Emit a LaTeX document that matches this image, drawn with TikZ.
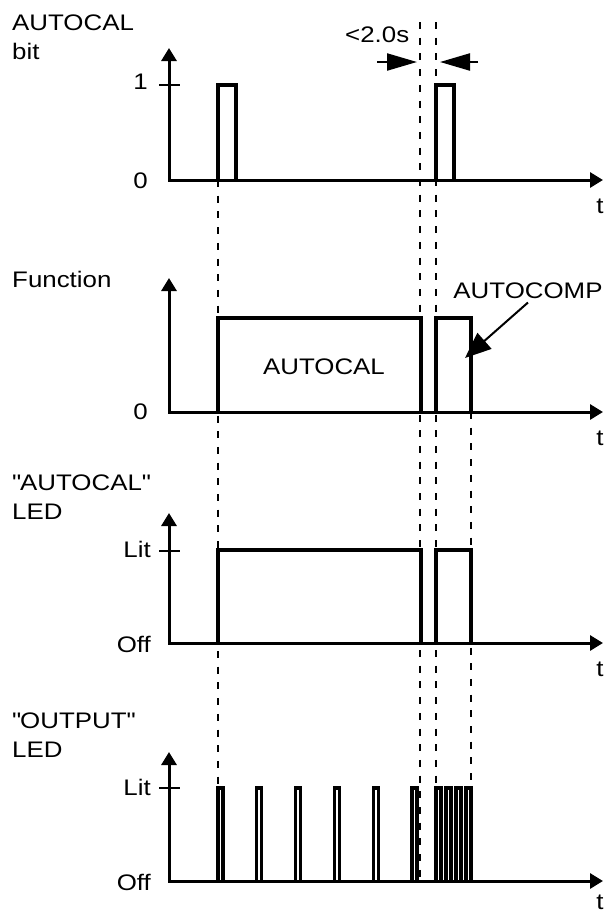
\documentclass[tikz,border=0pt]{standalone}
\usepackage{fontspec}
\setmainfont{Liberation Sans}[FakeStretch=1.15]
\usetikzlibrary{arrows.meta}

\begin{document}
\begin{tikzpicture}[x=1pt,y=-1pt,font=\fontsize{22.5}{28.5}\selectfont,
    wave/.style={line width=3.2pt},
    axis/.style={line width=3pt,{Triangle[length=13pt,width=15pt]}-{Triangle[length=13pt,width=15pt]}},
    tickmark/.style={line width=2.2pt},
    guide/.style={line width=2.6pt,dash pattern=on 7pt off 8.7pt},
    span/.style={line width=2.2pt,-{Triangle[length=30pt,width=17pt]}},
    ptr/.style={line width=2pt,-{Triangle[length=26pt,width=21pt]}},
    lbl/.style={inner sep=0pt}]
  \useasboundingbox (0,0) rectangle (607,914);
  % Top: AUTOCAL bit
  \node[lbl,anchor=north west,align=left] (bitlbl) at (12,15) {AUTOCAL\\bit};
  \draw[axis] (169,48) -- (169,180) -- (603,180);
  \draw[tickmark] (159,85) -- (180,85);
  \node[lbl,anchor=base east] (bitone) at (148,89) {1};
  \node[lbl,anchor=base east] (bitzero) at (148,188) {0};
  \node[lbl,anchor=base] (bitt) at (600,213) {t};
  \draw[wave] (218,180) |- (236,85) -- (236,180);
  \draw[wave] (436,180) |- (454,85) -- (454,180);
  % Time gap between the two requests
  \node[lbl,anchor=base west] (gaptxt) at (345,42) {<2.0s};
  \coordinate (gapLtail) at (377,62);
  \coordinate (gapLtip) at (417,62);
  \coordinate (gapRtail) at (478,62);
  \coordinate (gapRtip) at (440,62);
  \draw[span] (gapLtail) -- (gapLtip);
  \draw[span] (gapRtail) -- (gapRtip);
  % Function
  \node[lbl,anchor=north west,align=left] (funclbl) at (12,271) {Function};
  \draw[axis] (169,278) -- (169,412) -- (603,412);
  \node[lbl,anchor=base east] (funczero) at (148,419) {0};
  \node[lbl,anchor=base] (funct) at (600,445) {t};
  \draw[wave] (218,412) |- (421,318) -- (421,412);
  \draw[wave] (436,412) |- (471,318) -- (471,412);
  \node (autocal) at (324,367) {AUTOCAL};
  \node (autocomp) at (528,291) {AUTOCOMP};
  \coordinate (compin) at (465,358);
  \draw[ptr] (autocomp.south) -- (compin);
  % "AUTOCAL" LED
  \node[lbl,anchor=north west,align=left] (callbl) at (12,475) {\textquotedbl AUTOCAL\textquotedbl\\LED};
  \draw[axis] (169,513) -- (169,643) -- (603,643);
  \draw[tickmark] (159,551) -- (180,551);
  \node[lbl,anchor=base east] (callit) at (151,557) {Lit};
  \node[lbl,anchor=base east] (caloff) at (151,652) {Off};
  \node[lbl,anchor=base] (calt) at (600,676) {t};
  \draw[wave] (218,643) |- (421,550) -- (421,643);
  \draw[wave] (436,643) |- (471,550) -- (471,643);
  % "OUTPUT" LED
  \node[lbl,anchor=north west,align=left] (outlbl) at (12,713) {\textquotedbl OUTPUT\textquotedbl\\LED};
  \draw[axis] (169,752) -- (169,881) -- (603,881);
  \draw[tickmark] (159,788) -- (180,788);
  \node[lbl,anchor=base east] (outlit) at (151,795) {Lit};
  \node[lbl,anchor=base east] (outoff) at (151,890) {Off};
  \node[lbl,anchor=base] (outt) at (600,909) {t};
  \foreach \x in {218,256.8,295.6,334.4,373.2,412}
    \draw[wave] (\x,881) |- (\x+5,788) -- (\x+5,881);
  \foreach \x in {436,446,456,466}
    \draw[wave] (\x,881) |- (\x+5,788) -- (\x+5,881);
  % Dashed time marks
  \draw[guide] (218,180) -- (218,881);
  \draw[guide] (420,22) -- (420,881);
  \draw[guide] (436,22) -- (436,797);
  \draw[guide] (471,412) -- (471,788);
\end{tikzpicture}
\end{document}
